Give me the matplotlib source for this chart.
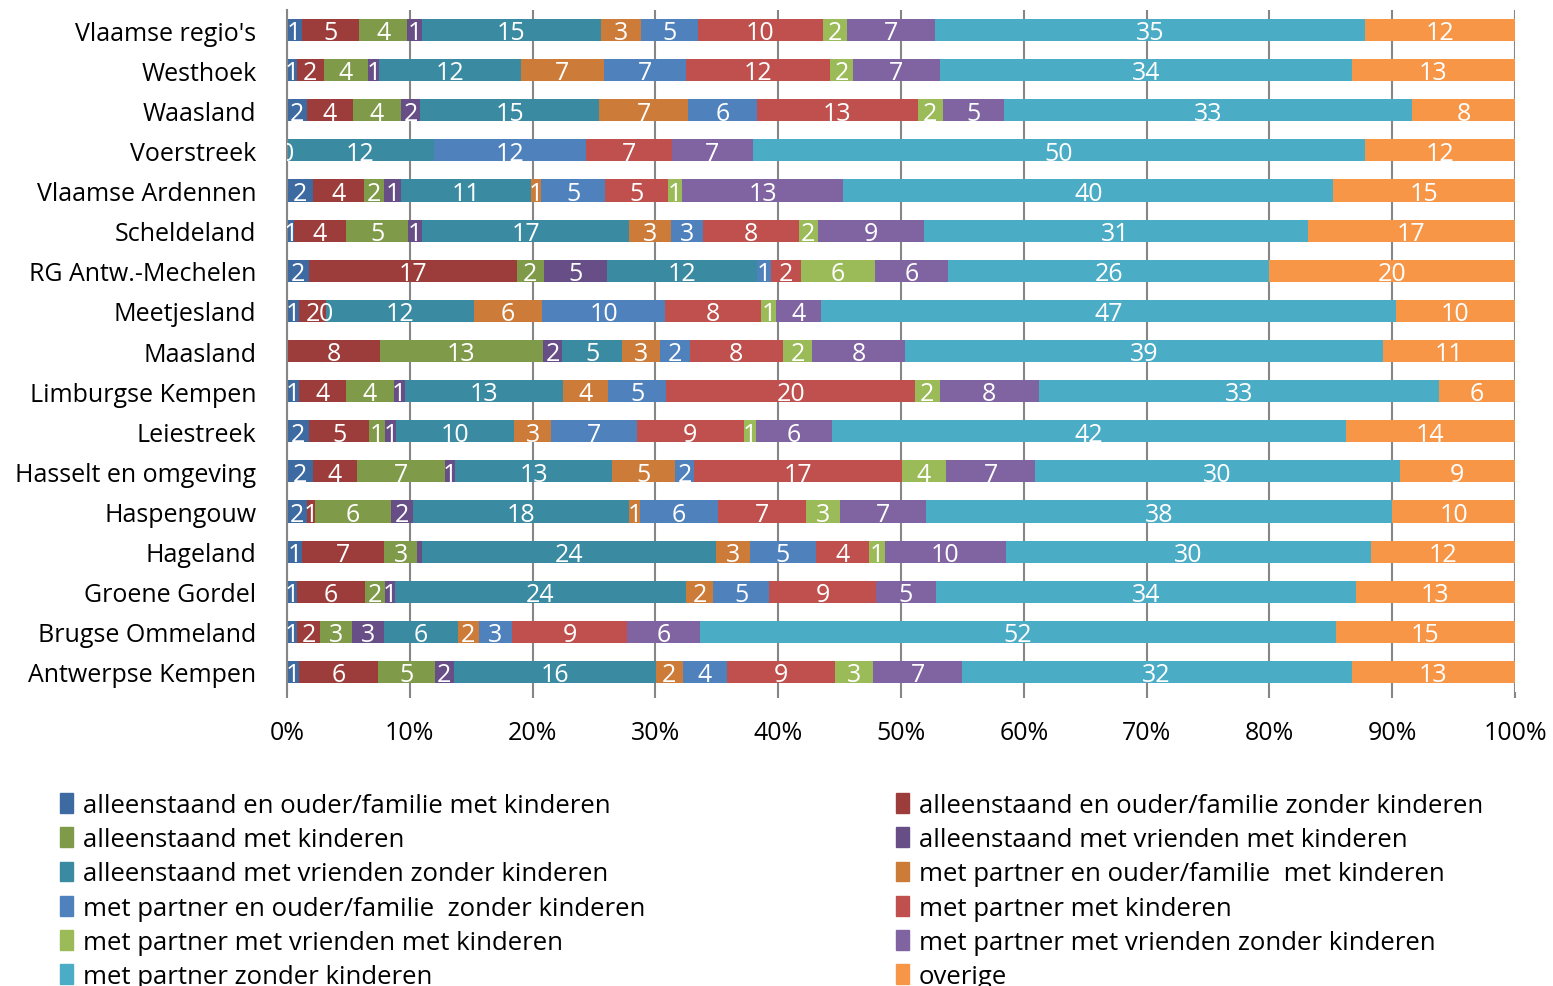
import numpy as np
import matplotlib.pyplot as plt
from matplotlib.patches import Patch

plt.rcParams['font.family'] = ['Open Sans', 'DejaVu Sans']

nan = np.nan

# regions, top to bottom as in the chart
regions = ["Vlaamse regio's", "Westhoek", "Waasland", "Voerstreek", "Vlaamse Ardennen",
           "Scheldeland", "RG Antw.-Mechelen", "Meetjesland", "Maasland",
           "Limburgse Kempen", "Leiestreek", "Hasselt en omgeving", "Haspengouw",
           "Hageland", "Groene Gordel", "Brugse Ommeland", "Antwerpse Kempen"]

series_names = ["alleenstaand en ouder/familie met kinderen",
                "alleenstaand en ouder/familie zonder kinderen",
                "alleenstaand met kinderen",
                "alleenstaand met vrienden met kinderen",
                "alleenstaand met vrienden zonder kinderen",
                "met partner en ouder/familie  met kinderen",
                "met partner en ouder/familie  zonder kinderen",
                "met partner met kinderen",
                "met partner met vrienden met kinderen",
                "met partner met vrienden zonder kinderen",
                "met partner zonder kinderen",
                "overige"]

colors = ["#3E6AA2", "#9C3D3B", "#7F9A48", "#674E86", "#3A8BA2", "#CD7B38",
          "#4F81BD", "#C0504D", "#9BBB59", "#8064A2", "#4BACC6", "#F79646"]

# percentages per series, same order as regions (nan = no value)
s_alleen_fam_met = [1.2, 0.8, 1.6, 0, 2.1, 0.6, 1.8, 1.0, nan, 1.0, 1.8, 2.1, 1.6, 1.2, 0.8, 0.8, 1.0]
s_alleen_fam_zonder = [4.7, 2.2, 3.8, nan, 4.2, 4.2, 16.9, 2.2, 7.6, 3.8, 4.9, 3.6, 0.7, 6.7, 5.6, 1.9, 6.4]
s_alleen_met = [3.9, 3.6, 3.9, nan, 1.6, 5.1, 2.2, 0, 13.3, 3.9, 1.3, 7.2, 6.2, 2.7, 1.6, 2.6, 4.6]
s_alleen_vr_met = [1.2, 0.9, 1.6, nan, 1.4, 1.1, 5.1, nan, 1.6, 0.9, 0.9, 0.8, 1.8, 0.4, 0.8, 2.6, 1.6]
s_alleen_vr_zonder = [14.6, 11.6, 14.6, 12.0, 10.6, 16.9, 12.2, 12.0, 4.9, 12.9, 9.6, 12.8, 17.6, 23.9, 23.8, 6.0, 16.4]
s_partner_fam_met = [3.3, 6.7, 7.3, nan, 0.8, 3.4, nan, 5.6, 3.1, 3.7, 3.0, 5.1, 0.9, 2.7, 2.2, 1.7, 2.2]
s_partner_fam_zonder = [4.6, 6.7, 5.6, 12.4, 5.2, 2.6, 1.2, 10.0, 2.4, 4.7, 7.0, 1.6, 6.3, 5.4, 4.6, 2.7, 3.6]
s_partner_met = [10.2, 11.8, 13.2, 7.0, 5.1, 7.8, 2.4, 7.8, 7.6, 20.3, 8.7, 16.9, 7.2, 4.3, 8.7, 9.4, 8.8]
s_partner_vr_met = [2.0, 1.8, 2.0, nan, 1.2, 1.6, 6.0, 1.2, 2.4, 2.0, 1.0, 3.6, 2.8, 1.3, nan, nan, 3.1]
s_partner_vr_zonder = [7.2, 7.1, 5.0, 6.6, 13.1, 8.6, 6.0, 3.7, 7.6, 8.1, 6.2, 7.3, 7.0, 9.8, 4.9, 5.9, 7.2]
s_partner_zonder = [35.1, 33.6, 33.4, 50.0, 39.9, 31.3, 26.1, 46.8, 39.0, 32.6, 41.8, 29.7, 38.0, 29.7, 34.3, 51.8, 31.7]
s_overige = [12.2, 13.3, 8.4, 12.2, 14.8, 16.9, 20.0, 9.7, 10.8, 6.2, 13.8, 9.4, 10.0, 11.7, 13.0, 14.6, 13.3]

data = np.array([s_alleen_fam_met, s_alleen_fam_zonder, s_alleen_met, s_alleen_vr_met,
                 s_alleen_vr_zonder, s_partner_fam_met, s_partner_fam_zonder, s_partner_met,
                 s_partner_vr_met, s_partner_vr_zonder, s_partner_zonder, s_overige])
vals = np.nan_to_num(data)
pct = vals / vals.sum(axis=0) * 100  # 100% stacked

fs = 18

fig = plt.figure(figsize=(15.53, 9.87), dpi=100)
ax = fig.add_axes([287 / 1553, 1 - 693 / 987, 1228 / 1553, 682 / 987])

y = np.arange(len(regions))
left = np.zeros(len(regions))
handles = []
for i in range(len(series_names)):
    ax.barh(y, pct[i], left=left, height=0.55, color=colors[i], zorder=2)
    handles.append(Patch(color=colors[i], label=series_names[i]))
    for j in range(len(regions)):
        v = data[i, j]
        if np.isnan(v) or 0 < v < 0.5:
            continue
        ax.text(left[j] + pct[i, j] / 2, y[j] + 0.07, f"{v:.0f}", color="white",
                ha="center", va="center", fontsize=fs, clip_on=True, zorder=3)
    left += pct[i]

ax.set_xlim(0, 100)
ax.set_ylim(len(regions) - 0.5, -0.5)
ax.set_xticks(np.arange(0, 101, 10))
ax.set_xticklabels([f"{t}%" for t in range(0, 101, 10)], fontsize=fs)
ax.set_yticks(y)
ax.set_yticklabels(regions, fontsize=fs)
ax.tick_params(axis="y", length=0, pad=22)
ax.tick_params(axis="x", length=4, width=1.5, color="#868686", pad=16)
ax.grid(axis="x", color="#868686", linewidth=1.5, zorder=0)
ax.set_axisbelow(True)
for side in ["top", "right", "bottom"]:
    ax.spines[side].set_visible(False)
ax.spines["left"].set_color("#868686")
ax.spines["left"].set_linewidth(1.5)

leg_kw = dict(loc="upper left", frameon=False, fontsize=18.5, handlelength=0.5,
              handleheight=0.8, handletextpad=0.4, labelspacing=0.36,
              borderpad=0, borderaxespad=0)
fig.legend(handles=handles[0::2], bbox_to_anchor=(60 / 1553, 1 - 794 / 987), **leg_kw)
fig.legend(handles=handles[1::2], bbox_to_anchor=(896 / 1553, 1 - 794 / 987), **leg_kw)

fig.savefig("out.png", dpi=100)
